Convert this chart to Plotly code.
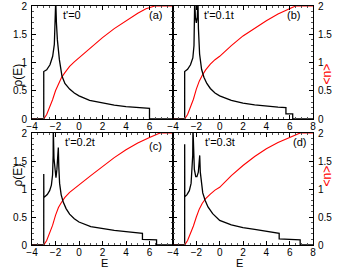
import plotly.graph_objects as go

# ---------------- data ----------------
# panel (a) t'=0
Ea_rho = [-4, -3.0, -3.0, -2.75, -2.47, -2.24, -2.10, -2.03, -1.98, -1.92, -1.84, -1.67, -1.45, -1.2, -0.8, -0.4, 0, 0.9, 2, 3, 4, 5, 6, 6, 8]
rho_a  = [0, 0, 0.84, 0.87, 0.96, 1.11, 1.32, 1.6, 2.1, 1.7, 1.4, 1.05, 0.76, 0.63, 0.53, 0.46, 0.41, 0.33, 0.28, 0.245, 0.22, 0.205, 0.19, 0, 0]
# panel (b) t'=0.1t
Eb_rho = [-4, -3.0, -3.0, -2.75, -2.5, -2.3, -2.2, -2.16, -2.14, -2.08, -2.0, -1.92, -1.86, -1.82, -1.72, -1.55, -1.35, -1.1, -0.8, -0.4, 0, 1, 2, 3, 4, 5, 5.68, 5.68, 6.26, 6.26, 8]
rho_b  = [0, 0, 0.84, 0.88, 0.96, 1.08, 1.3, 1.6, 2.1, 1.8, 1.7, 1.8, 2.1, 1.6, 1.15, 0.88, 0.74, 0.63, 0.54, 0.46, 0.41, 0.33, 0.28, 0.25, 0.225, 0.21, 0.2, 0.09, 0.09, 0, 0]
# panel (c) t'=0.2t
Ec_rho = [-4, -3.0, -3.0, -2.99, -2.7, -2.5, -2.35, -2.25, -2.2, -2.19, -2.13, -2.05, -1.96, -1.88, -1.76, -1.72, -1.65, -1.52, -1.35, -1.1, -0.8, -0.4, 0, 1, 2, 3, 4, 5, 5.4, 5.4, 6.6, 6.6, 8]
rho_c  = [0, 0, 1.27, 0.85, 0.9, 0.97, 1.07, 1.25, 1.6, 2.1, 1.55, 1.3, 1.2, 1.35, 1.74, 1.4, 1.1, 0.9, 0.77, 0.65, 0.55, 0.47, 0.41, 0.33, 0.29, 0.26, 0.24, 0.22, 0.21, 0.1, 0.09, 0, 0]
# panel (d) t'=0.3t
Ed_rho = [-4, -3.0, -3.0, -2.99, -2.8, -2.6, -2.45, -2.37, -2.31, -2.29, -2.25, -2.17, -2.05, -1.95, -1.83, -1.76, -1.71, -1.66, -1.58, -1.45, -1.25, -1.0, -0.6, 0, 1, 2, 3, 4, 5.1, 5.1, 6.9, 6.9, 8]
rho_d  = [0, 0, 1.8, 0.86, 0.9, 0.97, 1.1, 1.3, 1.6, 2.1, 1.6, 1.35, 1.22, 1.22, 1.3, 1.45, 1.6, 1.3, 1.1, 0.93, 0.8, 0.68, 0.56, 0.44, 0.36, 0.31, 0.28, 0.25, 0.21, 0.11, 0.09, 0, 0]

# occupation <n>
Ea_n = [-4, -3, -2.75, -2.5, -2.25, -2, -1.75, -1.5, -1.2, -0.8, -0.4, 0, 1, 2, 3, 4, 5, 5.7, 6.2, 6.45, 8]
n_a  = [0, 0, 0.08, 0.2, 0.34, 0.5, 0.63, 0.73, 0.82, 0.93, 1.01, 1.08, 1.27, 1.44, 1.6, 1.74, 1.87, 1.95, 1.99, 2.0, 2.0]
Eb_n = [-4, -3, -2.75, -2.5, -2.25, -2, -1.75, -1.5, -1.2, -0.8, -0.4, 0, 1, 2, 3, 4, 5, 5.9, 6.3, 6.5, 8]
n_b  = [0, 0, 0.08, 0.2, 0.35, 0.53, 0.67, 0.77, 0.87, 0.97, 1.05, 1.11, 1.3, 1.47, 1.61, 1.74, 1.86, 1.95, 1.99, 2.0, 2.0]
Ec_n = [-4, -3, -2.75, -2.5, -2.25, -2, -1.75, -1.5, -1.2, -0.8, -0.4, 0, 1, 2, 3, 4, 5, 6, 6.5, 6.9, 8]
n_c  = [0, 0, 0.08, 0.2, 0.35, 0.53, 0.67, 0.76, 0.85, 0.94, 1.01, 1.07, 1.24, 1.4, 1.56, 1.7, 1.82, 1.92, 1.97, 2.0, 2.0]
Ed_n = [-4, -3, -2.75, -2.5, -2.25, -2, -1.75, -1.5, -1.2, -0.8, -0.4, 0, 1, 2, 3, 4, 5, 6, 6.5, 6.9, 8]
n_d  = [0, 0, 0.08, 0.2, 0.34, 0.5, 0.64, 0.74, 0.83, 0.91, 0.98, 1.03, 1.24, 1.42, 1.58, 1.72, 1.83, 1.92, 1.97, 2.0, 2.0]

panel_labels = ["(a)", "(b)", "(c)", "(d)"]
tprime_labels = ["t'=0", "t'=0.1t", "t'=0.2t", "t'=0.3t"]
x_ticks = [-4, -2, 0, 2, 4, 6, 8]
y_ticks = [0, 0.5, 1, 1.5, 2]

# ---------------- figure ----------------
FONT = "Liberation Sans, Arial, sans-serif"
TICK_SIZE = 10
fig = go.Figure()

rho_sets = [(Ea_rho, rho_a), (Eb_rho, rho_b), (Ec_rho, rho_c), (Ed_rho, rho_d)]
n_sets = [(Ea_n, n_a), (Eb_n, n_b), (Ec_n, n_c), (Ed_n, n_d)]

for i in range(4):
    xa = "x" if i == 0 else f"x{i+1}"
    ya = "y" if i == 0 else f"y{i+1}"
    fig.add_trace(go.Scatter(x=n_sets[i][0], y=n_sets[i][1], mode="lines",
                             line=dict(color="#ff0000", width=1.1),
                             xaxis=xa, yaxis=ya, showlegend=False, cliponaxis=True,
                             hoverinfo="skip"))
    fig.add_trace(go.Scatter(x=rho_sets[i][0], y=rho_sets[i][1], mode="lines",
                             line=dict(color="black", width=1.3),
                             xaxis=xa, yaxis=ya, showlegend=False, cliponaxis=True,
                             hoverinfo="skip"))

W, H = 344, 270
xdom = [[32 / W, 173 / W], [173 / W, 313 / W]]
ydom = [[1 - 119 / H, 1 - 6 / H], [1 - 245 / H, 1 - 133 / H]]

layout = dict(width=W, height=H, autosize=False,
              margin=dict(l=0, r=0, t=0, b=0),
              paper_bgcolor="white", plot_bgcolor="white",
              font=dict(family=FONT, size=11, color="black"),
              showlegend=False, hovermode=False)

for i in range(4):
    col = i % 2
    row = i // 2
    xkey = "xaxis" if i == 0 else f"xaxis{i+1}"
    ykey = "yaxis" if i == 0 else f"yaxis{i+1}"
    yanchor = "y" if i == 0 else f"y{i+1}"
    xanchor = "x" if i == 0 else f"x{i+1}"
    if col == 0:
        ttext = [str(v) if v != 8 else "" for v in x_ticks]
    else:
        ttext = [str(v) for v in x_ticks]
    ttext = [t.replace("-", "\u2212") for t in ttext]
    layout[xkey] = dict(domain=xdom[col], anchor=yanchor, range=[-4, 8],
                        tickvals=x_ticks, ticktext=ttext, automargin=False,
                        ticklabeloverflow="allow",
                        ticks="inside", ticklen=4, tickcolor="black", tickwidth=1,
                        minor=dict(ticks="inside", ticklen=2, dtick=0.5, tickcolor="#555"),
                        showline=True, linecolor="black", linewidth=1, mirror="ticks",
                        showgrid=False, zeroline=False,
                        tickfont=dict(size=TICK_SIZE, family=FONT), ticklabelstandoff=-2)
    layout[ykey] = dict(domain=ydom[row], anchor=xanchor, range=[0, 2],
                        tickvals=y_ticks, ticktext=[f"{v:g}" for v in y_ticks],
                        side="left" if col == 0 else "right", automargin=False,
                        ticklabeloverflow="allow",
                        ticks="inside", ticklen=4, tickcolor="black", tickwidth=1,
                        minor=dict(ticks="inside", ticklen=2, dtick=0.1, tickcolor="#555"),
                        showline=True, linecolor="black", linewidth=1, mirror="ticks",
                        showgrid=False, zeroline=False,
                        tickfont=dict(size=TICK_SIZE, family=FONT), ticklabelstandoff=2)

fig.update_layout(**layout)

ann = []
txt_pos = [(-0.6, 1.84, 6.5, 1.84), (-0.06, 1.84, 6.37, 1.84),
           (0.09, 1.84, 6.5, 1.76), (0.03, 1.84, 6.8, 1.84)]
for i in range(4):
    xa = "x" if i == 0 else f"x{i+1}"
    ya = "y" if i == 0 else f"y{i+1}"
    tx, ty, lx, ly = txt_pos[i]
    ann.append(dict(x=tx, y=ty, xref=xa, yref=ya, text=tprime_labels[i], showarrow=False,
                    font=dict(size=11, family=FONT)))
    ann.append(dict(x=lx, y=ly, xref=xa, yref=ya, text=panel_labels[i], showarrow=False,
                    font=dict(size=11, family=FONT)))

# axis titles
for yc in [62, 189]:
    ann.append(dict(x=8 / W, y=1 - yc / H, xref="paper", yref="paper", text="\u03c1(E)",
                    textangle=-90, showarrow=False, font=dict(size=12, family=FONT)))
    ann.append(dict(x=335 / W, y=1 - yc / H, xref="paper", yref="paper", text="&lt;n&gt;",
                    textangle=-90, showarrow=False, font=dict(size=12, family=FONT, color="red")))
for xc in [100, 244]:
    ann.append(dict(x=xc / W, y=0, xref="paper", yref="paper", yanchor="bottom", text="E",
                    showarrow=False, borderpad=0, font=dict(size=11, family=FONT)))

fig.update_layout(annotations=ann)
fig.write_html("out.html", config={"displayModeBar": False},
               post_script="document.body.style.margin='0';document.body.style.overflow='hidden';")
